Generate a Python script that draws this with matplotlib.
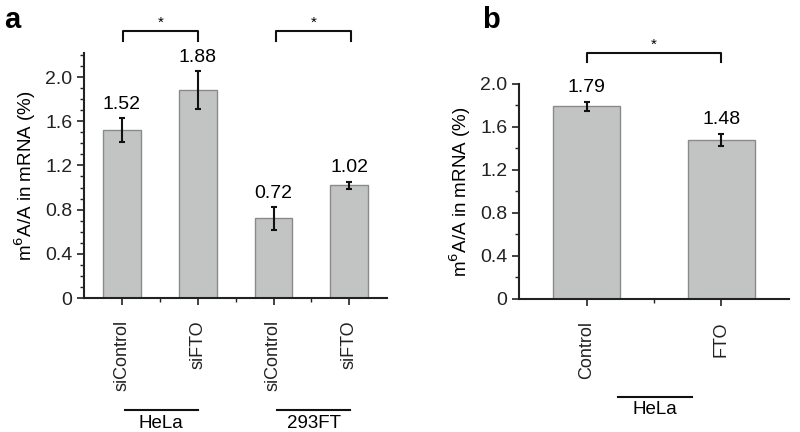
import matplotlib.pyplot as plt
from matplotlib.ticker import MultipleLocator, FixedLocator

plt.rcParams['font.family'] = ['Liberation Sans', 'DejaVu Sans']

# panel a
a_labels = ['siControl', 'siFTO', 'siControl', 'siFTO']
a_values = [1.52, 1.88, 0.72, 1.02]
a_errors = [0.105, 0.17, 0.10, 0.03]
a_groups = ['HeLa', '293FT']
a_yticks = [0, 0.4, 0.8, 1.2, 1.6, 2.0]

# panel b
b_labels = ['Control', 'FTO']
b_values = [1.79, 1.48]
b_errors = [0.045, 0.055]
b_groups = ['HeLa']
b_yticks = [0, 0.4, 0.8, 1.2, 1.6, 2.0]

bar_color = '#c2c4c4'
edge_color = '#8a8a8a'
ylabel = 'm$^6$A/A in mRNA (%)'


def fmt(v):
    return '0' if v == 0 else '{:.1f}'.format(v)


def draw_panel(ax, labels, values, errors, yticks, ymax, minor):
    x = list(range(len(values)))
    ax.bar(x, values, width=0.5, color=bar_color, edgecolor=edge_color,
           linewidth=1.0, zorder=2)
    ax.errorbar(x, values, yerr=errors, fmt='none', ecolor='#111111',
                elinewidth=1.5, capsize=2.5, capthick=1.5, zorder=3)
    for xi, v, e in zip(x, values, errors):
        ax.text(xi, v + e + 0.05, '{:.2f}'.format(v), ha='center',
                va='bottom', fontsize=14)
    ax.set_xlim(-0.5, len(values) - 0.5)
    ax.set_ylim(0, ymax)
    ax.set_yticks(yticks)
    ax.set_yticklabels([fmt(t) for t in yticks], fontsize=14)
    ax.yaxis.set_minor_locator(MultipleLocator(minor))
    ax.set_xticks(x)
    ax.set_xticklabels(labels, rotation=90, fontsize=13)
    ax.xaxis.set_minor_locator(FixedLocator([i + 0.5 for i in x[:-1]]))
    ax.tick_params(axis='both', which='major', length=5, width=1.2,
                   direction='out', colors='#222222')
    ax.tick_params(axis='both', which='minor', length=3, width=1.0,
                   direction='out', colors='#222222')
    ax.tick_params(axis='x', pad=11)
    for s in ['top', 'right']:
        ax.spines[s].set_visible(False)
    for s in ['left', 'bottom']:
        ax.spines[s].set_linewidth(1.5)
        ax.spines[s].set_color('#222222')
    ax.set_ylabel(ylabel, fontsize=13.5, labelpad=5)


def bracket(ax, x0, x1, y, h):
    ax.plot([x0, x0, x1, x1], [y - h, y, y, y - h], color='#111111',
            lw=1.5, clip_on=False)
    ax.text((x0 + x1) / 2, y + 0.005, '*', ha='center', va='bottom',
            fontsize=11)


def group_line(ax, x0, x1, name):
    trans = ax.get_xaxis_transform()
    ax.plot([x0, x1], [-0.455, -0.455], color='#111111', lw=1.5,
            transform=trans, clip_on=False)
    ax.text((x0 + x1) / 2, -0.475, name, ha='center', va='top',
            fontsize=13.5, transform=trans)


fig = plt.figure(figsize=(8, 4.32), dpi=100)
ax1 = fig.add_axes([0.105, 0.310, 0.379, 0.568])
ax2 = fig.add_axes([0.649, 0.308, 0.337, 0.498])

draw_panel(ax1, a_labels, a_values, a_errors, a_yticks, 2.22, 0.1)
draw_panel(ax2, b_labels, b_values, b_errors, b_yticks, 2.0, 0.2)

bracket(ax1, 0.02, 1.0, 2.42, 0.09)
bracket(ax1, 2.03, 3.02, 2.42, 0.09)
bracket(ax2, 0.0, 1.0, 2.29, 0.09)

group_line(ax1, 0.04, 1.0, a_groups[0])
group_line(ax1, 2.05, 3.01, a_groups[1])
group_line(ax2, 0.23, 0.78, b_groups[0])

fig.text(0.005, 0.935, 'a', fontsize=21, fontweight='bold')
fig.text(0.603, 0.935, 'b', fontsize=21, fontweight='bold')

plt.savefig('out.png', dpi=100)
